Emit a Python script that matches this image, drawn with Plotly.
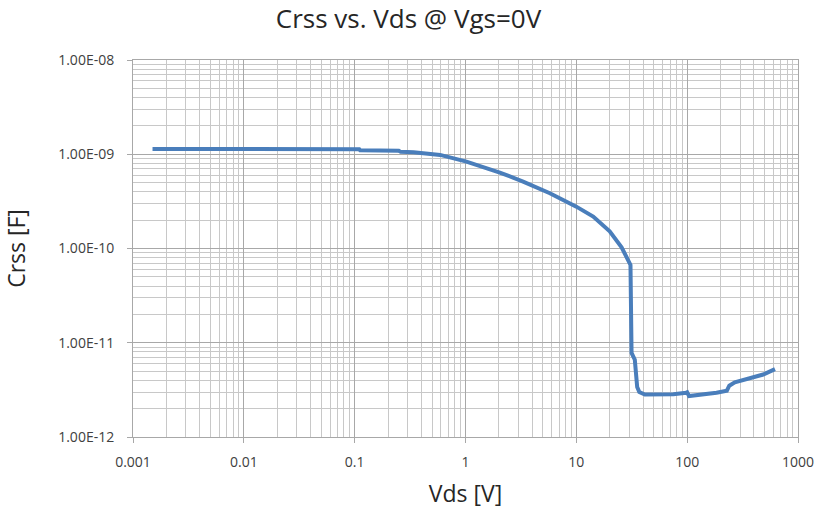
import plotly.graph_objects as go

# Data
vds = [0.0015, 0.11, 0.112, 0.25, 0.26, 0.34, 0.59, 1.02, 2.04, 3.31, 5.77, 10.0,
       14.2, 20, 25.6, 29.4, 30.8, 31.5, 33.7, 35.4, 37, 41.5, 60, 75, 98, 100,
       104, 140, 184, 228, 240, 269, 368, 485, 620]
crss = [1.14e-9, 1.13e-9, 1.10e-9, 1.09e-9, 1.06e-9, 1.05e-9, 9.84e-10, 8.35e-10,
        6.4e-10, 5.13e-10, 3.86e-10, 2.78e-10, 2.18e-10, 1.52e-10, 1.03e-10,
        7.3e-11, 6.7e-11, 7.8e-12, 6.6e-12, 3.4e-12, 3.0e-12, 2.82e-12, 2.82e-12,
        2.85e-12, 2.95e-12, 2.98e-12, 2.72e-12, 2.82e-12, 2.95e-12, 3.1e-12,
        3.5e-12, 3.8e-12, 4.2e-12, 4.6e-12, 5.25e-12]

x_tickvals = [0.001, 0.01, 0.1, 1, 10, 100, 1000]
x_ticktext = ["0.001", "0.01", "0.1", "1", "10", "100", "1000"]
y_tickvals = [1e-12, 1e-11, 1e-10, 1e-9, 1e-8]
y_ticktext = ["1.00E-12", "1.00E-11", "1.00E-10", "1.00E-09", "1.00E-08"]

title_text = "Crss vs. Vds @ Vgs=0V"
x_title = "Vds [V]"
y_title = "Crss [F]"

# minor grid positions (2..9 within each decade)
x_minor = [d * m for d in x_tickvals[:-1] for m in range(2, 10)]
y_minor = [d * m for d in y_tickvals[:-1] for m in range(2, 10)]

FONT = "Open Sans"
GRID_MAJOR = "#a8a8a8"
GRID_MINOR = "#c8c8c8"

fig = go.Figure()
fig.add_trace(go.Scatter(
    x=vds, y=crss, mode="lines",
    line=dict(color="#4a7ebb", width=4),
    showlegend=False,
))

fig.update_layout(
    width=817, height=512,
    margin=dict(l=133, r=19, t=60, b=75),
    paper_bgcolor="white", plot_bgcolor="white",
    font=dict(family=FONT, color="#404040"),
    title=dict(text=title_text, x=0.5, xref="container", xanchor="center",
               y=1 - 19 / 512, yref="container", yanchor="middle",
               font=dict(size=26, color="#262626", family=FONT)),
    showlegend=False,
)

fig.update_xaxes(
    type="log", range=[-3, 3], automargin=False,
    tickmode="array", tickvals=x_tickvals, ticktext=x_ticktext,
    tickfont=dict(size=14, color="#404040"),
    ticks="outside", ticklen=5, tickcolor=GRID_MAJOR, ticklabelstandoff=7,
    showgrid=True, gridcolor=GRID_MAJOR, gridwidth=1,
    minor=dict(tickmode="array", tickvals=x_minor, showgrid=True,
               gridcolor=GRID_MINOR, gridwidth=1, ticks=""),
    showline=True, linecolor=GRID_MAJOR, linewidth=1, mirror=True,
    zeroline=False,
    title=dict(text=x_title, font=dict(size=23, color="#262626"), standoff=16),
)
fig.update_yaxes(
    type="log", range=[-12, -8], automargin=False,
    tickmode="array", tickvals=y_tickvals, ticktext=y_ticktext,
    tickfont=dict(size=14, color="#404040"),
    ticks="outside", ticklen=5, tickcolor=GRID_MAJOR, ticklabelstandoff=10,
    showgrid=True, gridcolor=GRID_MAJOR, gridwidth=1,
    minor=dict(tickmode="array", tickvals=y_minor, showgrid=True,
               gridcolor=GRID_MINOR, gridwidth=1, ticks=""),
    showline=True, linecolor=GRID_MAJOR, linewidth=1, mirror=True,
    zeroline=False,
    title=dict(text=y_title, font=dict(size=23, color="#262626"), standoff=26),
)

fig.write_html("out.html", config={"displayModeBar": False},
               post_script="document.body.style.margin='0';")
